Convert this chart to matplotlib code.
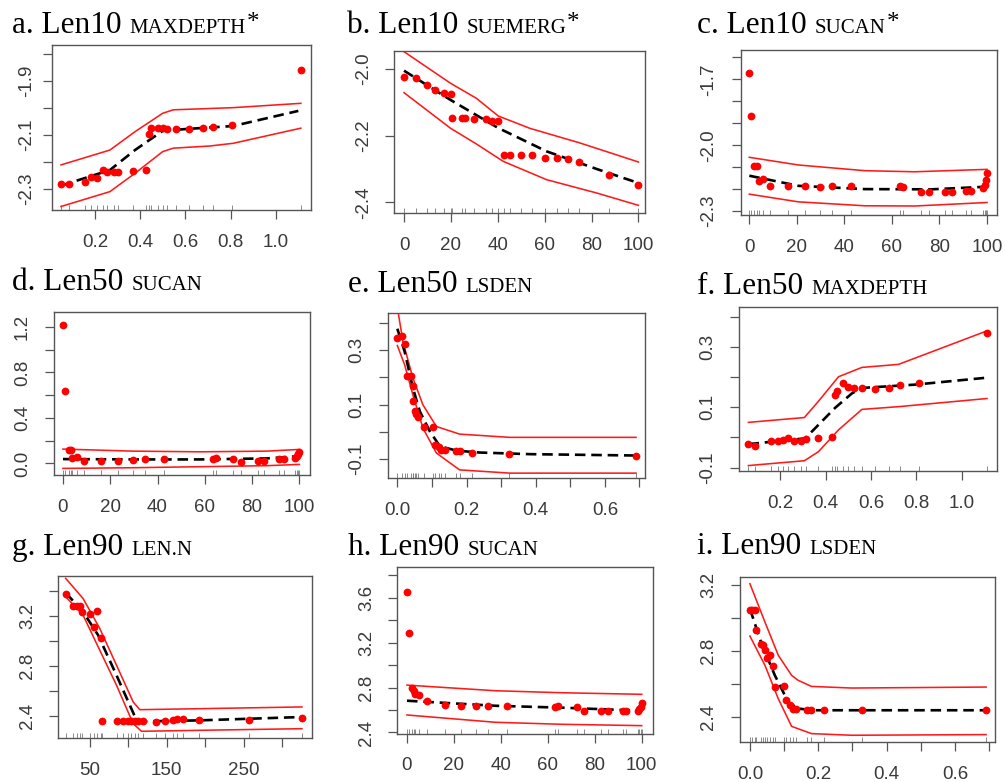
import matplotlib
matplotlib.use("Agg")
import matplotlib.pyplot as plt
from matplotlib.transforms import blended_transform_factory

# ---------------- data ----------------
# a. Len10 MAXDEPTH
a_x = [0.05, 0.085, 0.156, 0.182, 0.207, 0.237, 0.254, 0.285, 0.303, 0.366, 0.425, 0.437,
       0.449, 0.477, 0.499, 0.517, 0.557, 0.615, 0.677, 0.723, 0.807, 1.11]
a_y = [-2.283, -2.280, -2.275, -2.254, -2.260, -2.230, -2.236, -2.236, -2.236, -2.233, -2.230,
       -2.098, -2.073, -2.073, -2.073, -2.079, -2.079, -2.079, -2.075, -2.070, -2.063, -1.859]
a_fit_x = [0.05, 0.266, 0.377, 0.499, 0.605, 0.811, 1.099]
a_fit_y = [-2.288, -2.230, -2.156, -2.085, -2.078, -2.067, -2.011]
a_up_x = [0.05, 0.266, 0.377, 0.499, 0.546, 0.811, 1.11]
a_up_y = [-2.211, -2.156, -2.088, -2.020, -2.007, -1.999, -1.983]
a_lo_x = [0.05, 0.266, 0.377, 0.499, 0.546, 0.708, 0.811, 1.11]
a_lo_y = [-2.365, -2.310, -2.242, -2.162, -2.149, -2.141, -2.131, -2.075]

# b. Len10 SUEMERG
b_x = [0, 5, 10, 13.1, 17.1, 20.2, 20.5, 24.8, 25.9, 29.9, 34.9, 37.6, 40.2, 42.7, 45.2,
       49.9, 54.8, 60.1, 65.1, 69.8, 74.8, 87.5, 100]
b_y = [-2.025, -2.028, -2.049, -2.063, -2.071, -2.075, -2.148, -2.148, -2.148, -2.151, -2.151,
       -2.155, -2.155, -2.258, -2.258, -2.258, -2.258, -2.267, -2.267, -2.270, -2.279, -2.319, -2.349]
b_fit_x = [0, 19.9, 40.2, 60.8, 82.2, 100]
b_fit_y = [-2.005, -2.093, -2.177, -2.247, -2.300, -2.342]
b_up_x = [0, 19.9, 30.9, 40.2, 53.7, 75.1, 100]
b_up_y = [-1.948, -2.043, -2.088, -2.141, -2.178, -2.222, -2.279]
b_lo_x = [0, 19.9, 30.9, 42.3, 60.8, 82.2, 100]
b_lo_y = [-2.071, -2.178, -2.225, -2.277, -2.332, -2.372, -2.409]

# c. Len10 SUCAN
c_x = [0, 0.7, 2.1, 3.2, 4.2, 5.9, 8.8, 16.1, 23.4, 29.7, 34.6, 42.7, 63.3, 64.7, 72.1, 75.6,
       82.5, 85.3, 91.3, 93.4, 98.3, 99.0, 99.4, 100]
c_y = [-1.670, -1.867, -2.093, -2.093, -2.162, -2.154, -2.186, -2.186, -2.186, -2.192, -2.186,
       -2.186, -2.186, -2.189, -2.215, -2.215, -2.215, -2.215, -2.207, -2.207, -2.197, -2.182,
       -2.159, -2.128]
c_fit_x = [0, 20.6, 48.6, 76.6, 100]
c_fit_y = [-2.139, -2.185, -2.200, -2.201, -2.189]
c_up_x = [0, 20.6, 48.6, 69.6, 100]
c_up_y = [-2.055, -2.090, -2.116, -2.121, -2.110]
c_lo_x = [0, 20.6, 48.6, 69.6, 100]
c_lo_y = [-2.223, -2.258, -2.276, -2.277, -2.261]

# d. Len50 SUCAN
d_x = [0, 0.7, 2.5, 3.2, 4.0, 5.9, 8.9, 16.2, 23.3, 29.7, 34.6, 42.8, 63.6, 64.7, 72.0, 75.1,
       82.3, 85.2, 91.5, 93.6, 98.2, 98.9, 99.6, 100]
d_y = [1.215, 0.638, 0.117, 0.117, 0.044, 0.053, 0.020, 0.023, 0.023, 0.029, 0.035, 0.035,
       0.035, 0.044, 0.035, 0.015, 0.020, 0.020, 0.038, 0.038, 0.050, 0.064, 0.082, 0.102]
d_fit_x = [0, 29.7, 57.9, 86.2, 100]
d_fit_y = [0.038, 0.035, 0.035, 0.044, 0.064]
d_up_x = [0, 29.7, 57.9, 86.2, 100]
d_up_y = [0.126, 0.108, 0.102, 0.108, 0.123]
d_lo_x = [0, 29.7, 57.9, 86.2, 100]
d_lo_y = [-0.044, -0.038, -0.029, -0.020, -0.009]

# e. Len50 LSDEN
e_x = [0.0, 0.0145, 0.021, 0.029, 0.039, 0.045, 0.045, 0.050, 0.053, 0.060, 0.077, 0.103,
       0.108, 0.121, 0.127, 0.137, 0.169, 0.180, 0.217, 0.323, 0.690]
e_y = [0.346, 0.352, 0.325, 0.204, 0.204, 0.167, 0.115, 0.078, 0.066, 0.054, 0.019, 0.019,
       -0.048, -0.058, -0.067, -0.069, -0.070, -0.073, -0.077, -0.083, -0.088]
e_fit_x = [0, 0.021, 0.045, 0.065, 0.094, 0.123, 0.171, 0.238, 0.383, 0.690]
e_fit_y = [0.380, 0.296, 0.161, 0.075, 0.001, -0.054, -0.070, -0.077, -0.083, -0.088]
e_up_x = [0, 0.016, 0.045, 0.074, 0.113, 0.180, 0.325, 0.690]
e_up_y = [0.46, 0.333, 0.198, 0.099, 0.019, -0.009, -0.021, -0.021]
e_lo_x = [0, 0.021, 0.045, 0.074, 0.113, 0.180, 0.325, 0.690]
e_lo_y = [0.318, 0.247, 0.136, 0.013, -0.079, -0.141, -0.153, -0.153]

# f. Len50 MAXDEPTH
f_x = [0.061, 0.090, 0.160, 0.190, 0.215, 0.237, 0.262, 0.292, 0.313, 0.369, 0.430, 0.442,
       0.450, 0.479, 0.498, 0.523, 0.560, 0.618, 0.680, 0.728, 0.809, 1.110]
f_y = [-0.022, -0.027, -0.012, -0.012, -0.009, -0.003, -0.011, -0.011, -0.005, -0.003, 0.002,
       0.142, 0.153, 0.179, 0.168, 0.164, 0.164, 0.162, 0.164, 0.173, 0.181, 0.347]
f_fit_x = [0.061, 0.310, 0.347, 0.442, 0.516, 0.560, 0.794, 1.110]
f_fit_y = [-0.022, -0.003, 0.025, 0.098, 0.146, 0.164, 0.175, 0.198]
f_up_x = [0.061, 0.307, 0.369, 0.457, 0.560, 0.721, 1.110]
f_up_y = [0.050, 0.066, 0.120, 0.201, 0.232, 0.242, 0.353]
f_lo_x = [0.061, 0.307, 0.369, 0.457, 0.560, 0.721, 1.110]
f_lo_y = [-0.093, -0.077, -0.047, 0.025, 0.093, 0.102, 0.129]

# g. Len90 LEN.N
g_x = [18.7, 28.3, 33.5, 37.0, 40.4, 50, 55.2, 60, 64.3, 66.5, 84.8, 93.5, 100, 104.3, 108.7,
       113, 118.7, 135.7, 147.8, 157.8, 163, 171.7, 192.6, 257.8, 326]
g_y = [3.377, 3.283, 3.283, 3.283, 3.235, 3.216, 3.114, 3.243, 3.025, 2.356, 2.356, 2.356,
       2.356, 2.356, 2.356, 2.356, 2.356, 2.348, 2.356, 2.361, 2.369, 2.369, 2.367, 2.367, 2.383]
g_fit_x = [18.7, 41.3, 60.9, 84.8, 102.2, 110.9, 123.9, 193.5, 326]
g_fit_y = [3.388, 3.235, 3.047, 2.724, 2.482, 2.361, 2.353, 2.361, 2.388]
g_up_x = [18.7, 41.3, 63, 84.8, 106.5, 115.2, 193.5, 326]
g_up_y = [3.504, 3.342, 3.101, 2.805, 2.509, 2.447, 2.455, 2.469]
g_lo_x = [18.7, 41.3, 60.9, 84.8, 106.5, 117.4, 193.5, 326]
g_lo_y = [3.356, 3.208, 2.953, 2.644, 2.334, 2.273, 2.281, 2.294]

# h. Len90 SUCAN
h_x = [0, 0.7, 2.0, 2.8, 3.2, 5.0, 8.5, 16.0, 23.0, 29.5, 34.5, 42.6, 63.1, 64.5, 72.3, 75.5,
       82.6, 85.5, 91.9, 93.3, 98.2, 99.0, 99.7, 100]
h_y = [3.652, 3.282, 2.793, 2.772, 2.740, 2.733, 2.680, 2.644, 2.638, 2.638, 2.638, 2.638,
       2.624, 2.635, 2.624, 2.591, 2.591, 2.591, 2.591, 2.594, 2.591, 2.606, 2.629, 2.665]
h_fit_x = [0, 37.6, 66.0, 100]
h_fit_y = [2.683, 2.638, 2.621, 2.594]
h_up_x = [0, 37.6, 66.0, 100]
h_up_y = [2.822, 2.772, 2.754, 2.740]
h_lo_x = [0, 37.6, 66.0, 100]
h_lo_y = [2.556, 2.491, 2.473, 2.461]

# i. Len90 LSDEN
i_x = [0, 0.007, 0.015, 0.017, 0.032, 0.039, 0.044, 0.049, 0.059, 0.068, 0.073, 0.100, 0.107,
       0.117, 0.125, 0.135, 0.168, 0.180, 0.218, 0.327, 0.691]
i_y = [3.048, 3.048, 3.048, 2.927, 2.846, 2.839, 2.805, 2.760, 2.775, 2.710, 2.582, 2.588,
       2.501, 2.471, 2.451, 2.447, 2.441, 2.441, 2.441, 2.441, 2.441]
i_fit_x = [0, 0.034, 0.073, 0.112, 0.141, 0.190, 0.691]
i_fit_y = [3.058, 2.846, 2.653, 2.491, 2.451, 2.441, 2.441]
i_up_x = [0, 0.044, 0.083, 0.122, 0.141, 0.180, 0.298, 0.691]
i_up_y = [3.210, 2.977, 2.775, 2.653, 2.623, 2.586, 2.576, 2.582]
i_lo_x = [0, 0.044, 0.083, 0.122, 0.180, 0.298, 0.691]
i_lo_y = [2.892, 2.714, 2.511, 2.343, 2.299, 2.289, 2.293]

# titles: (prefix, variable, significant)
titles = [("a. Len10", "MAXDEPTH", True), ("b. Len10", "SUEMERG", True), ("c. Len10", "SUCAN", True),
          ("d. Len50", "SUCAN", False), ("e. Len50", "LSDEN", False), ("f. Len50", "MAXDEPTH", False),
          ("g. Len90", "LEN.N", False), ("h. Len90", "SUCAN", False), ("i. Len90", "LSDEN", False)]

# tick values and labels
x_md = [0.2, 0.4, 0.6, 0.8, 1.0]
x_md_lab = ["0.2", "0.4", "0.6", "0.8", "1.0"]
x_pct = [0, 20, 40, 60, 80, 100]
x_pct_lab = ["0", "20", "40", "60", "80", "100"]
x_ls = [0.0, 0.1, 0.2, 0.3, 0.4, 0.5, 0.6, 0.7]
x_ls_lab = ["0.0", "", "0.2", "", "0.4", "", "0.6", ""]
x_len = [50, 100, 150, 200, 250, 300]
x_len_lab = ["50", "", "150", "", "250", ""]

y_a = [-2.3, -2.2, -2.1, -2.0, -1.9, -1.8]
y_a_lab = ["-2.3", "", "-2.1", "", "-1.9", ""]
y_b = [-2.4, -2.2, -2.0]
y_b_lab = ["-2.4", "-2.2", "-2.0"]
y_c = [-2.3, -2.2, -2.1, -2.0, -1.9, -1.8, -1.7, -1.6]
y_c_lab = ["-2.3", "", "", "-2.0", "", "", "-1.7", ""]
y_d = [0.0, 0.2, 0.4, 0.6, 0.8, 1.0, 1.2]
y_d_lab = ["0.0", "", "0.4", "", "0.8", "", "1.2"]
y_e = [-0.1, 0.0, 0.1, 0.2, 0.3, 0.4]
y_e_lab = ["-0.1", "", "0.1", "", "0.3", ""]
y_g = [2.4, 2.6, 2.8, 3.0, 3.2, 3.4]
y_g_lab = ["2.4", "", "2.8", "", "3.2", ""]
y_h = [2.4, 2.6, 2.8, 3.0, 3.2, 3.4, 3.6, 3.8]
y_h_lab = ["2.4", "", "2.8", "", "3.2", "", "3.6", ""]
y_i = [2.4, 2.6, 2.8, 3.0, 3.2]
y_i_lab = ["2.4", "", "2.8", "", "3.2"]

# ---------------- layout (pixels) ----------------
W, H = 1005, 782
fig = plt.figure(figsize=(W / 100, H / 100), dpi=100)

panels = [
    dict(data=(a_x, a_y, a_fit_x, a_fit_y, a_up_x, a_up_y, a_lo_x, a_lo_y), box=(52, 311, 45, 210),
         xlim=(0.010, 1.155), ylim=(-2.378, -1.767), xt=(x_md, x_md_lab), yt=(y_a, y_a_lab),
         title=(12, 33), ypad=6),
    dict(data=(b_x, b_y, b_fit_x, b_fit_y, b_up_x, b_up_y, b_lo_x, b_lo_y), box=(394, 645, 51, 213),
         xlim=(-4.27, 102.8), ylim=(-2.432, -1.946), xt=(x_pct, x_pct_lab), yt=(y_b, y_b_lab),
         title=(347, 33), ypad=9),
    dict(data=(c_x, c_y, c_fit_x, c_fit_y, c_up_x, c_up_y, c_lo_x, c_lo_y), box=(741, 997, 50, 215),
         xlim=(-3.5, 104.2), ylim=(-2.318, -1.566), xt=(x_pct, x_pct_lab), yt=(y_c, y_c_lab),
         title=(697, 33), ypad=11),
    dict(data=(d_x, d_y, d_fit_x, d_fit_y, d_up_x, d_up_y, d_lo_x, d_lo_y), box=(54, 310, 312, 475),
         xlim=(-3.8, 104.5), ylim=(-0.102, 1.332), xt=(x_pct, x_pct_lab), yt=(y_d, y_d_lab),
         title=(12, 290), ypad=10),
    dict(data=(e_x, e_y, e_fit_x, e_fit_y, e_up_x, e_up_y, e_lo_x, e_lo_y), box=(388, 645, 313, 478),
         xlim=(-0.027, 0.716), ylim=(-0.171, 0.438), xt=(x_ls, x_ls_lab), yt=(y_e, y_e_lab),
         title=(348, 292), ypad=10),
    dict(data=(f_x, f_y, f_fit_x, f_fit_y, f_up_x, f_up_y, f_lo_x, f_lo_y), box=(739, 997, 307, 471),
         xlim=(0.0195, 1.154), ylim=(-0.111, 0.432), xt=(x_md, x_md_lab), yt=(y_e, y_e_lab),
         title=(697, 294), ypad=10),
    dict(data=(g_x, g_y, g_fit_x, g_fit_y, g_up_x, g_up_y, g_lo_x, g_lo_y), box=(58, 312, 576, 738),
         xlim=(8.7, 339.1), ylim=(2.219, 3.523), xt=(x_len, x_len_lab), yt=(y_g, y_g_lab),
         title=(12, 555), ypad=9),
    dict(data=(h_x, h_y, h_fit_x, h_fit_y, h_up_x, h_up_y, h_lo_x, h_lo_y), box=(397, 653, 567, 733.5),
         xlim=(-4.26, 104.8), ylim=(2.391, 3.874), xt=(x_pct, x_pct_lab), yt=(y_h, y_h_lab),
         title=(348, 555), ypad=9),
    dict(data=(i_x, i_y, i_fit_x, i_fit_y, i_up_x, i_up_y, i_lo_x, i_lo_y), box=(740, 995, 577, 742),
         xlim=(-0.029, 0.717), ylim=(2.248, 3.251), xt=(x_ls, x_ls_lab), yt=(y_i, y_i_lab),
         title=(697, 554), ypad=10),
]

AX_COL = "#555555"
TXT_COL = "#3a3a3a"

for p in panels:
    x, y, fx, fy, ux, uy, lx, ly = p["data"]
    l, r, t, b = p["box"]
    ax = fig.add_axes([l / W, 1 - b / H, (r - l) / W, (b - t) / H])
    ax.plot(ux, uy, color="#ff1a1a", lw=1.15, zorder=2)
    ax.plot(lx, ly, color="#ff1a1a", lw=1.15, zorder=2)
    ax.plot(fx, fy, color="black", lw=1.9, ls=(0, (4, 2.2)), zorder=3)
    ax.plot(x, y, "o", color="#ff0000", ms=5.6, mec="none", zorder=4)
    tr = blended_transform_factory(ax.transData, ax.transAxes)
    ax.vlines(x, 0, 0.03, transform=tr, colors="#777777", lw=0.6, zorder=1)
    ax.set_xlim(*p["xlim"])
    ax.set_ylim(*p["ylim"])
    ax.set_xticks(p["xt"][0])
    ax.set_xticklabels(p["xt"][1])
    ax.set_yticks(p["yt"][0])
    ax.set_yticklabels(p["yt"][1], rotation=90, va="center")
    for s in ax.spines.values():
        s.set_color(AX_COL)
        s.set_linewidth(1.0)
    ax.tick_params(axis="both", length=6.5, width=0.9, color=AX_COL, labelcolor=TXT_COL,
                   labelsize=13.5)
    ax.tick_params(axis="x", pad=10.5)
    ax.tick_params(axis="y", pad=p["ypad"])
    for lab in ax.get_xticklabels() + ax.get_yticklabels():
        lab.set_family("Liberation Sans")

# titles
renderer = fig.canvas.get_renderer()
MAIN = 22.5
SMALL = 15
for (pre, var, star), p in zip(titles, panels):
    xp, yp = p["title"]
    t1 = fig.text(xp / W, 1 - yp / H, pre, fontsize=MAIN, family="Liberation Serif",
                  va="baseline", ha="left", color="black")
    bb = t1.get_window_extent(renderer)
    xp2 = xp + bb.width + 0.36 * MAIN
    t2 = fig.text(xp2 / W, 1 - yp / H, var, fontsize=SMALL, family="Liberation Serif",
                  va="baseline", ha="left", color="black")
    bb2 = t2.get_window_extent(renderer)
    if star:
        xp3 = xp2 + bb2.width + 1
        fig.text(xp3 / W, 1 - (yp - 4) / H, "*", fontsize=18, family="Liberation Serif",
                 va="baseline", ha="left", color="black")

fig.savefig("out.png", dpi=100, facecolor="white")
